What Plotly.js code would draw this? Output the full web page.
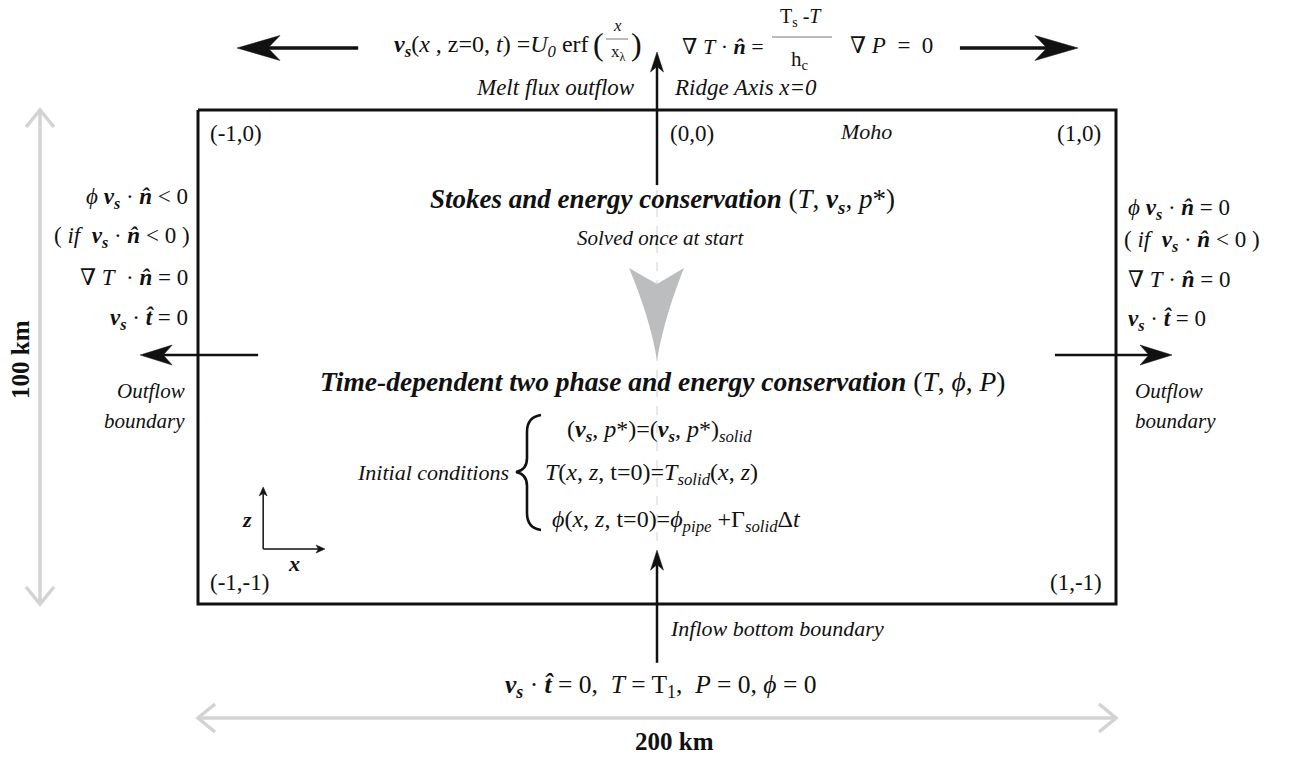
<!DOCTYPE html>
<html>
<head>
<meta charset="utf-8">
<script src="https://cdn.plot.ly/plotly-3.0.1.min.js"></script>
<style>
  html, body { margin: 0; padding: 0; background: #ffffff; }
  #fig { width: 1293px; height: 757px; }
  #fig text { font-family: "Liberation Serif", "DejaVu Serif", "Times New Roman", serif !important; }
</style>
</head>
<body>
<div id="fig"></div>
<script>
// ---- Model domain (non-dimensional): x across the ridge, z from base to Moho ----
const domainX = [-1, 1];
const domainZ = [-1, 0];
const domainSize = ['200 km', '100 km'];

// Corner coordinate labels
const cornerLabels = ['(-1,0)', '(0,0)', '(1,0)', '(-1,-1)', '(1,-1)'];
const cornerX = [-1, 0, 1, -1, 1];
const cornerZ = [0, 0, 0, -1, -1];

// Black flow arrows in model coordinates: [x0, z0] -> [x1, z1]
const arrowFrom = [[-0.651, 0.1255], [0.660, 0.1255], [-0.869, -0.496], [0.867, -0.496], [0, -0.152], [0, -1.119], [-0.858, -0.8887], [-0.858, -0.8887]];
const arrowTo   = [[-0.915, 0.1255], [0.917, 0.1255], [-1.126, -0.496], [1.122, -0.496], [0, 0.1174], [0, -0.891], [-0.858, -0.763], [-0.7233, -0.8887]];
const arrowWidth = [3.5, 3.5, 2.5, 2.5, 2.5, 2.5, 1.5, 1.5];
const headLen    = [43, 43, 32, 32, 20, 20, 9, 9];
const headHalf   = [12.5, 12.5, 10, 10, 6.5, 6.5, 4, 4];

// ---- Figure geometry ----
const W = 1293, H = 757;
const xr = [-657 / 459, (W - 657) / 459];
const zr = [(110 - H) / 494, 110 / 494];
const ux = (xr[1] - xr[0]) / W;   // model units per screen pixel (x)
const uz = (zr[1] - zr[0]) / H;   // model units per screen pixel (z)
const X = px => xr[0] + px * ux;
const Z = py => zr[1] - py * uz;

const SERIF = '"Liberation Serif", "DejaVu Serif", serif';
const INK = '#111111';
const GREY = '#d3d3d3';

const shapes = [];
const annotations = [];

// Build an SVG path point in model coordinates from pixel offsets relative to a point
function pt(x, z, ox, oy) { return (x + ox * ux).toFixed(5) + ',' + (z - oy * uz).toFixed(5); }

function direction(from, to) {
  const dx = (to[0] - from[0]) / ux, dy = -(to[1] - from[1]) / uz;
  const n = Math.hypot(dx, dy);
  return [dx / n, dy / n];
}

// Solid arrows with a swept (stealth) head
arrowFrom.forEach((from, i) => {
  const to = arrowTo[i];
  const [dx, dy] = direction(from, to);
  const nx = -dy, ny = dx;
  const L = headLen[i], h = headHalf[i];
  const notch = 0.72 * L;
  shapes.push({
    type: 'line', xref: 'x', yref: 'y',
    x0: from[0], y0: from[1],
    x1: to[0] - notch * dx * ux, y1: to[1] + notch * dy * uz,
    line: { color: INK, width: arrowWidth[i] }
  });
  shapes.push({
    type: 'path', xref: 'x', yref: 'y',
    path: 'M' + pt(to[0], to[1], 0, 0) +
          ' L' + pt(to[0], to[1], -L * dx + h * nx, -L * dy + h * ny) +
          ' L' + pt(to[0], to[1], -notch * dx, -notch * dy) +
          ' L' + pt(to[0], to[1], -L * dx - h * nx, -L * dy - h * ny) + ' Z',
    fillcolor: INK, line: { color: INK, width: 0.5 }
  });
});

// Grey dimension arrows (double-headed, open chevrons)
function dimArrow(a, b) {
  shapes.push({ type: 'line', xref: 'x', yref: 'y', x0: a[0], y0: a[1], x1: b[0], y1: b[1],
                line: { color: GREY, width: 3.5 } });
  [[a, b], [b, a]].forEach(([tail, tip]) => {
    const [dx, dy] = direction(tail, tip);
    const nx = -dy, ny = dx, L = 17, h = 14;
    shapes.push({
      type: 'path', xref: 'x', yref: 'y',
      path: 'M' + pt(tip[0], tip[1], -L * dx + h * nx, -L * dy + h * ny) +
            ' L' + pt(tip[0], tip[1], 0, 0) +
            ' L' + pt(tip[0], tip[1], -L * dx - h * nx, -L * dy - h * ny),
      line: { color: GREY, width: 3.5 }
    });
  });
}
dimArrow([domainX[0], Z(718)], [domainX[1], Z(718)]);
dimArrow([X(40), domainZ[0]], [X(40), domainZ[1]]);

// Faint dashed ridge axis through the domain
shapes.push({ type: 'line', xref: 'x', yref: 'y', x0: 0, x1: 0, y0: Z(190), y1: Z(548),
              line: { color: '#d9d9d9', width: 1.2, dash: 'dash' }, layer: 'below' });

// Grey chevron between the two solution stages
shapes.push({
  type: 'path', xref: 'x', yref: 'y',
  path: 'M' + pt(0, Z(268), -28, 0) + ' L' + pt(0, Z(284), 0, 0) + ' L' + pt(0, Z(268), 27, 0) +
        ' Q' + pt(0, Z(318), 7, 0) + ' ' + pt(0, Z(360), 0, 0) +
        ' Q' + pt(0, Z(318), -7, 0) + ' ' + pt(0, Z(268), -28, 0) + ' Z',
  fillcolor: '#bcbdbf', line: { width: 0 }
});

// Fraction bars
shapes.push({ type: 'line', xref: 'x', yref: 'y', x0: X(772), x1: X(832), y0: Z(37), y1: Z(37),
              line: { color: '#777777', width: 1 } });
shapes.push({ type: 'line', xref: 'x', yref: 'y', x0: X(606), x1: X(628), y0: Z(39), y1: Z(39),
              line: { color: '#777777', width: 1 } });

// Curly brace for the initial conditions
(function () {
  const p = [[541, 415], [527, 417], [527, 432], [527, 458], [527, 470], [516, 472], [527, 474], [527, 486], [527, 513], [527, 528], [541, 530]];
  const s = p.map(q => X(q[0]).toFixed(5) + ',' + Z(q[1]).toFixed(5));
  shapes.push({
    type: 'path', xref: 'x', yref: 'y',
    path: 'M' + s[0] + ' Q' + s[1] + ' ' + s[2] + ' L' + s[3] + ' Q' + s[4] + ' ' + s[5] +
          ' Q' + s[6] + ' ' + s[7] + ' L' + s[8] + ' Q' + s[9] + ' ' + s[10],
    line: { color: INK, width: 2.6 }
  });
})();

// ---- Text ----
const vs = '<b><i>v</i></b><sub><b><i>s</i></b></sub>';
const nhat = '<b><i>n\u0302</i></b>';
const that = '<b><i>t\u0302</i></b>';

function label(text, px, py, anchor, size, extra) {
  annotations.push(Object.assign({
    text: text, x: X(px), y: Z(py), xref: 'x', yref: 'y', showarrow: false,
    xanchor: anchor || 'center', yanchor: 'middle',
    font: { family: SERIF, size: size || 20, color: INK }
  }, extra || {}));
}

// Corner coordinates
const cornerShift = [[10, -23, 'left'], [11, -23, 'left'], [-13, -23, 'right'], [10, 22, 'left'], [-12, 22, 'right']];
cornerLabels.forEach((t, i) => {
  annotations.push({
    text: t, x: cornerX[i], y: cornerZ[i], xref: 'x', yref: 'y', showarrow: false,
    xanchor: cornerShift[i][2], yanchor: 'middle', xshift: cornerShift[i][0], yshift: cornerShift[i][1],
    font: { family: SERIF, size: 23, color: INK }
  });
});

// Top boundary conditions
label(vs + '(<i>x</i> , z=0, <i>t</i>) =<i>U</i><sub><i>0</i></sub> erf', 591, 46, 'right', 24);
label('(', 598, 44, 'center', 32);
label(')', 636, 44, 'center', 32);
label('<i>x</i>', 617, 25, 'center', 17);
label('x<sub>\u03bb</sub>', 618, 53, 'center', 17);
label('\u2207 <i>T</i> \u00b7 ' + nhat + ' =', 680, 46, 'left', 22);
label('T<sub>s</sub> -<i>T</i>', 801, 17, 'center', 20);
label('h<sub>c</sub>', 800, 60, 'center', 21);
label('\u2207 <i>P</i>  =  0', 848, 45, 'left', 23);
label('<i>Melt flux outflow</i>', 637, 87, 'right', 23);
label('<i>Ridge Axis x=0</i>', 672, 87, 'left', 23);

// Inside the domain
label('<i>Moho</i>', 866, 131, 'center', 22);
label('<b><i>Stokes and energy conservation</i></b> (<i>T</i>, ' + vs + ', <i>p</i>*)', 428, 201, 'left', 27);
label('<i>Solved once at start</i>', 660, 238, 'center', 21);
label('<b><i>Time-dependent two phase and energy conservation</i></b> (<i>T</i>, <i>\u03d5</i>, <i>P</i>)', 318, 381, 'left', 27.5);
label('<i>Initial conditions</i>', 511, 472, 'right', 22);
label('(' + vs + ', <i>p</i>*)=(' + vs + ', <i>p</i>*)<sub><i>solid</i></sub>', 565, 431, 'left', 24);
label('<i>T</i>(<i>x</i>, <i>z</i>, t=0)=<i>T</i><sub><i>solid</i></sub>(<i>x</i>, <i>z</i>)', 543, 474, 'left', 24);
label('<i>\u03d5</i>(<i>x</i>, <i>z</i>, t=0)=<i>\u03d5</i><sub><i>pipe</i></sub> +\u0393<sub><i>solid</i></sub>\u0394<i>t</i>', 550, 521, 'left', 24);
label('<b><i>z</i></b>', 247, 519, 'center', 22);
label('<b><i>x</i></b>', 294, 563, 'center', 22);

// Left (outflow) boundary
label('<i>\u03d5</i> ' + vs + ' \u00b7 ' + nhat + ' < 0', 190, 198, 'right', 23);
label('( <i>if</i>  ' + vs + ' \u00b7 ' + nhat + ' < 0 )', 192, 237, 'right', 23);
label('\u2207 <i>T</i>  \u00b7 ' + nhat + ' = 0', 190, 277, 'right', 23);
label(vs + ' \u00b7 ' + that + ' = 0', 190, 319, 'right', 23);
label('<i>Outflow</i>', 187, 391, 'right', 21);
label('<i>boundary</i>', 187, 421, 'right', 21);

// Right (outflow) boundary
label('<i>\u03d5</i> ' + vs + ' \u00b7 ' + nhat + ' = 0', 1126, 209, 'left', 23);
label('( <i>if</i>  ' + vs + ' \u00b7 ' + nhat + ' < 0 )', 1122, 241, 'left', 23);
label('\u2207 <i>T</i> \u00b7 ' + nhat + ' = 0', 1126, 279, 'left', 23);
label(vs + ' \u00b7 ' + that + ' = 0', 1126, 320, 'left', 23);
label('<i>Outflow</i>', 1133, 391, 'left', 21);
label('<i>boundary</i>', 1133, 421, 'left', 21);

// Bottom boundary
label('<i>Inflow bottom boundary</i>', 668, 628, 'left', 22);
label(vs + ' \u00b7 ' + that + ' = 0,  <i>T</i> = T<sub>1</sub>,  <i>P</i> = 0, <i>\u03d5</i> = 0', 660, 686, 'center', 25.5);

// Domain size
label('<b>' + domainSize[0] + '</b>', 674, 741, 'center', 25);
label('<b>' + domainSize[1] + '</b>', 20, 360, 'center', 25, { textangle: -90 });

// Domain outline drawn as a closed line trace
const boxTrace = {
  type: 'scatter', mode: 'lines', hoverinfo: 'skip',
  x: [domainX[0], domainX[1], domainX[1], domainX[0], domainX[0]],
  y: [domainZ[1], domainZ[1], domainZ[0], domainZ[0], domainZ[1]],
  line: { color: INK, width: 3 }
};

const layout = {
  width: W, height: H,
  margin: { l: 0, r: 0, t: 0, b: 0, pad: 0 },
  paper_bgcolor: '#ffffff', plot_bgcolor: '#ffffff',
  showlegend: false, hovermode: false,
  font: { family: SERIF, size: 20, color: INK },
  xaxis: { range: xr, visible: false, fixedrange: true },
  yaxis: { range: zr, visible: false, fixedrange: true },
  shapes: shapes,
  annotations: annotations
};

Plotly.newPlot('fig', [boxTrace], layout, { displayModeBar: false });
</script>
</body>
</html>
